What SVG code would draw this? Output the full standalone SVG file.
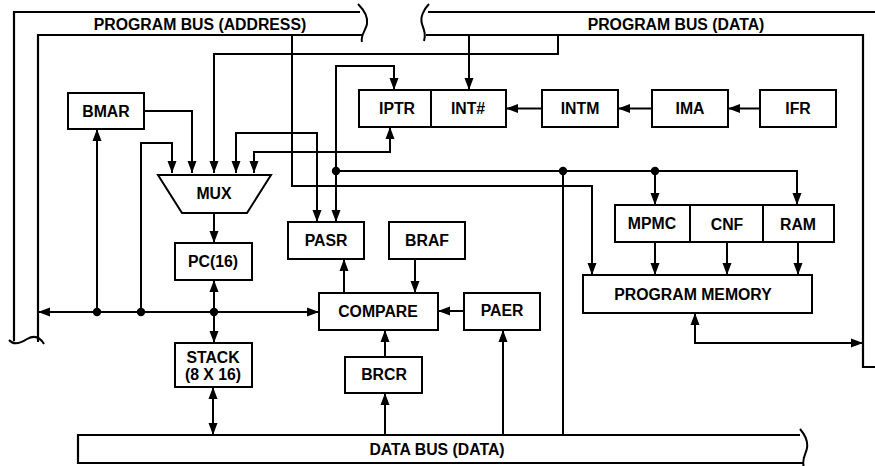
<svg xmlns="http://www.w3.org/2000/svg" width="875" height="466" viewBox="0 0 875 466">
  <style>
    .bx { fill: #fff; stroke: #000; stroke-width: 2; }
    .ln { fill: none; stroke: #000; stroke-width: 2; }
    .bus { fill: none; stroke: #000; stroke-width: 2.2; }
    .t { font-family: "Liberation Sans", Arial, sans-serif; font-weight: bold; font-size: 15.8px; text-anchor: middle; fill: #000; }
    .dot { fill: #000; }
  </style>
  <defs>
    <marker id="ah" viewBox="0 0 12 10" refX="12" refY="5" markerWidth="12" markerHeight="10" markerUnits="userSpaceOnUse" orient="auto-start-reverse">
      <path d="M0,0.5 L12,5 L0,9.5 z" fill="#000"/>
    </marker>
  </defs>

  <!-- buses -->
  <g id="program-bus-address">
    <path class="bus" d="M360,12 H14 V341"/>
    <path class="bus" d="M363,35 H38 V342"/>
    <path class="ln" d="M358,4 C366,12 368,18 367,24 C366,30 360,36 362,42"/>
    <path class="ln" d="M9,340 C14,346 21,343 27,339 C34,335 40,337 44,344"/>
    <text class="t" x="200" y="30">PROGRAM BUS (ADDRESS)</text>
  </g>
  <g id="program-bus-data">
    <path class="bus" d="M428,12 H875"/>
    <path class="bus" d="M426,35 H863 V367 H875"/>
    <path class="ln" d="M429,4 C423,10 420,18 422,24 C424,30 426,34 424,41"/>
    <text class="t" x="676" y="30">PROGRAM BUS (DATA)</text>
  </g>
  <g id="data-bus">
    <path class="bus" d="M800,435 H78 V463 H803"/>
    <path class="ln" d="M800,429 C806,436 808,442 807,448 C806,454 801,460 804,467"/>
    <text class="t" x="437" y="455">DATA BUS (DATA)</text>
  </g>

  <!-- connectors -->
  <g id="connectors" class="ln">
    <path class="ln" d="M144,111 H192 V173" marker-end="url(#ah)"/>
    <path class="ln" d="M97,312 V129" marker-end="url(#ah)"/>
    <path class="ln" d="M141,312 V143 H172 V173" marker-end="url(#ah)"/>
    <path class="ln" d="M558,35 V54 H214 V173" marker-end="url(#ah)"/>
    <path class="ln" d="M317,222 V133 H236 V173" marker-start="url(#ah)" marker-end="url(#ah)"/>
    <path class="ln" d="M390,127 V152 H254 V173" marker-start="url(#ah)" marker-end="url(#ah)"/>
    <path class="ln" d="M336,222 V66 H394 V90" marker-start="url(#ah)" marker-end="url(#ah)"/>
    <path class="ln" d="M336,171 H797 V205" marker-end="url(#ah)"/>
    <path class="ln" d="M655,171 V205" marker-end="url(#ah)"/>
    <path class="ln" d="M563,171 V435"/>
    <path class="ln" d="M292,35 V186 H592 V275" marker-end="url(#ah)"/>
    <path class="ln" d="M469,35 V90" marker-end="url(#ah)"/>
    <path class="ln" d="M542,108.5 H506" marker-end="url(#ah)"/>
    <path class="ln" d="M652,108.5 H618" marker-end="url(#ah)"/>
    <path class="ln" d="M760,108.5 H728" marker-end="url(#ah)"/>
    <path class="ln" d="M214,213 V243" marker-end="url(#ah)"/>
    <path class="ln" d="M214,280 V343" marker-start="url(#ah)" marker-end="url(#ah)"/>
    <path class="ln" d="M319,312 H38" marker-start="url(#ah)" marker-end="url(#ah)"/>
    <path class="ln" d="M213,387 V435" marker-start="url(#ah)" marker-end="url(#ah)"/>
    <path class="ln" d="M344,293 V259" marker-end="url(#ah)"/>
    <path class="ln" d="M415,259 V293" marker-end="url(#ah)"/>
    <path class="ln" d="M464,311 H438" marker-end="url(#ah)"/>
    <path class="ln" d="M385,357 V330" marker-end="url(#ah)"/>
    <path class="ln" d="M385,435 V393" marker-end="url(#ah)"/>
    <path class="ln" d="M503,435 V330" marker-end="url(#ah)"/>
    <path class="ln" d="M655,242 V275" marker-end="url(#ah)"/>
    <path class="ln" d="M727,242 V275" marker-end="url(#ah)"/>
    <path class="ln" d="M798,242 V275" marker-end="url(#ah)"/>
    <path class="ln" d="M695,313 V343 H863" marker-start="url(#ah)" marker-end="url(#ah)"/>
    <circle class="dot" cx="97" cy="312" r="3.2"/>
    <circle class="dot" cx="141" cy="312" r="3.2"/>
    <circle class="dot" cx="214" cy="312" r="3.2"/>
    <circle class="dot" cx="336" cy="171" r="3.2"/>
    <circle class="dot" cx="563" cy="171" r="3.2"/>
    <circle class="dot" cx="655" cy="171" r="3.2"/>
  </g>

  <!-- nodes -->
  <g id="bmar"><rect class="bx" x="68" y="93" width="76" height="36"/><text class="t" x="106" y="117">BMAR</text></g>
  <g id="mux"><path class="bx" d="M158,175 H271 L247,213 H182 Z"/><text class="t" x="214" y="199">MUX</text></g>
  <g id="pc"><rect class="bx" x="175" y="243" width="77" height="37"/><text class="t" x="213" y="267">PC(16)</text></g>
  <g id="stack"><rect class="bx" x="175" y="343" width="77" height="44"/><text class="t" x="213" y="363">STACK</text><text class="t" x="213" y="380">(8 X 16)</text></g>
  <g id="iptr"><rect class="bx" x="359" y="90" width="72" height="37"/><text class="t" x="397" y="114">IPTR</text></g>
  <g id="int-num"><rect class="bx" x="431" y="90" width="75" height="37"/><text class="t" x="468" y="114">INT#</text></g>
  <g id="intm"><rect class="bx" x="542" y="90" width="76" height="37"/><text class="t" x="580" y="114">INTM</text></g>
  <g id="ima"><rect class="bx" x="652" y="90" width="76" height="37"/><text class="t" x="690" y="114">IMA</text></g>
  <g id="ifr"><rect class="bx" x="760" y="90" width="76" height="37"/><text class="t" x="798" y="114">IFR</text></g>
  <g id="pasr"><rect class="bx" x="288" y="222" width="76" height="37"/><text class="t" x="326" y="246">PASR</text></g>
  <g id="braf"><rect class="bx" x="389" y="222" width="76" height="37"/><text class="t" x="427" y="246">BRAF</text></g>
  <g id="compare"><rect class="bx" x="319" y="293" width="119" height="37"/><text class="t" x="378" y="317">COMPARE</text></g>
  <g id="paer"><rect class="bx" x="464" y="293" width="76" height="37"/><text class="t" x="502" y="316">PAER</text></g>
  <g id="brcr"><rect class="bx" x="345" y="357" width="77" height="36"/><text class="t" x="384" y="380">BRCR</text></g>
  <g id="mpmc"><rect class="bx" x="615" y="205" width="75" height="37"/><text class="t" x="652" y="229">MPMC</text></g>
  <g id="cnf"><rect class="bx" x="690" y="205" width="73" height="37"/><text class="t" x="727" y="230">CNF</text></g>
  <g id="ram"><rect class="bx" x="763" y="205" width="71" height="37"/><text class="t" x="798" y="230">RAM</text></g>
  <g id="program-memory"><rect class="bx" x="583" y="275" width="229" height="38"/><text class="t" x="693" y="300">PROGRAM MEMORY</text></g>
</svg>
